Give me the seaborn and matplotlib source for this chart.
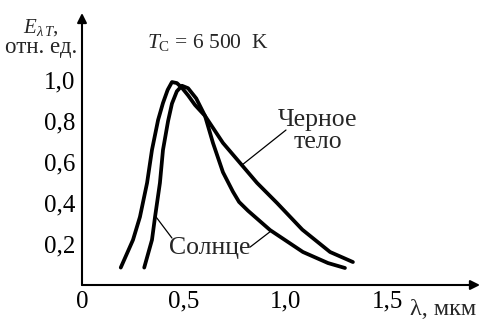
import matplotlib
matplotlib.use("Agg")
import matplotlib.pyplot as plt
from matplotlib import font_manager as fm
import seaborn as sns
import pandas as pd

# ---- data ----
bb_lam = [0.19, 0.25, 0.284, 0.319, 0.343, 0.373, 0.397, 0.42, 0.441, 0.465, 0.49,
          0.52, 0.554, 0.603, 0.691, 0.775, 0.858, 0.956, 1.08, 1.216, 1.328]
bb_E = [0.085, 0.22, 0.332, 0.498, 0.659, 0.805, 0.888, 0.952, 0.99, 0.985, 0.962,
        0.925, 0.878, 0.825, 0.693, 0.595, 0.498, 0.40, 0.27, 0.161, 0.112]
sun_lam = [0.305, 0.343, 0.358, 0.382, 0.397, 0.422, 0.441, 0.465, 0.49, 0.52, 0.56,
           0.603, 0.642, 0.691, 0.74, 0.77, 0.814, 0.922, 1.083, 1.206, 1.289]
sun_E = [0.085, 0.22, 0.332, 0.498, 0.659, 0.8, 0.885, 0.945, 0.972, 0.96, 0.91,
         0.825, 0.693, 0.55, 0.455, 0.405, 0.362, 0.268, 0.161, 0.107, 0.083]

x_ticks = [0, 0.25, 0.5, 0.75, 1.0, 1.25, 1.5]
x_labels = ["0", "", "0,5", "", "1,0", "", "1,5"]
y_ticks = [0.2, 0.4, 0.6, 0.8, 1.0]
y_labels = ["0,2", "0,4", "0,6", "0,8", "1,0"]

df = pd.DataFrame({
    "lam": bb_lam + sun_lam,
    "E": bb_E + sun_E,
    "series": ["Черное тело"] * len(bb_lam) + ["Солнце"] * len(sun_lam),
})

# pick a Times-like serif family that is actually installed
available = {f.name for f in fm.fontManager.ttflist}
serif = "DejaVu Serif"
for cand in ["Liberation Serif", "Tinos", "Times New Roman", "Nimbus Roman",
             "Nimbus Roman No9 L", "TeX Gyre Termes", "STIX Two Text", "STIXGeneral",
             "Noto Serif", "DejaVu Serif"]:
    if cand in available:
        serif = cand
        break
has_italic = any(f.name == serif and f.style == "italic" for f in fm.fontManager.ttflist)

sns.set_theme(style="white")
plt.rcParams["font.family"] = [serif, "DejaVu Serif"]
plt.rcParams["mathtext.fontset"] = "custom"
plt.rcParams["mathtext.rm"] = serif
plt.rcParams["mathtext.it"] = f"{serif}:italic" if has_italic else "DejaVu Serif:italic"

W, H = 485, 321
fig = plt.figure(figsize=(W / 100, H / 100), dpi=100)
x0px, y0px = 82, 285
xmax = (480 - x0px) / 204
ymax = (y0px - 13) / 205
ax = fig.add_axes([x0px / W, (H - y0px) / H, (480 - x0px) / W, (y0px - 13) / H])

sns.lineplot(data=df, x="lam", y="E", hue="series",
             palette={"Черное тело": "black", "Солнце": "black"},
             sort=False, estimator=None, legend=False, lw=2.7,
             solid_capstyle="round", solid_joinstyle="round", ax=ax)

ax.set_xlim(0, xmax)
ax.set_ylim(0, ymax)
ax.set_xlabel("")
ax.set_ylabel("")
for s in ax.spines.values():
    s.set_visible(False)

# axes with arrows
ax.annotate("", xy=(1, 0), xytext=(0, 0), xycoords="axes fraction",
            arrowprops=dict(arrowstyle="-|>", lw=1.5, color="black",
                            mutation_scale=14, shrinkA=0, shrinkB=0))
ax.annotate("", xy=(0, 1), xytext=(0, 0), xycoords="axes fraction",
            arrowprops=dict(arrowstyle="-|>", lw=1.5, color="black",
                            mutation_scale=14, shrinkA=0, shrinkB=0))

ax.set_xticks(x_ticks)
ax.set_xticklabels(x_labels)
ax.set_yticks(y_ticks)
ax.set_yticklabels(y_labels)
ax.tick_params(axis="both", direction="in", length=6, width=1.3, color="black",
               labelsize=18, labelcolor="black")
ax.tick_params(axis="x", pad=4)
ax.tick_params(axis="y", pad=5)
ax.xaxis.get_major_ticks()[0].tick1line.set_visible(False)
for lab in ax.get_xticklabels() + ax.get_yticklabels():
    lab.set_family([serif, "DejaVu Serif"])

# axis labels
ax.text((410 - x0px) / 204, (y0px - 315) / 205, "λ, мкм", fontsize=17.5,
        ha="left", va="baseline", clip_on=False)
fig.text(23 / W, 1 - 33 / H, r"$E_{\lambda\,T}$,", fontsize=15,
         ha="left", va="baseline")
fig.text(5 / W, 1 - 53 / H, "отн. ед.", fontsize=16.5, ha="left", va="baseline")

# temperature
ax.text((147 - x0px) / 204, (y0px - 48) / 205, r"$T_{\mathrm{C}}$ = 6 500  K",
        fontsize=15.5, ha="left", va="baseline")

# curve labels with pointers
ax.text((318 - x0px) / 204, (y0px - 131) / 205, "Черное\nтело", fontsize=18.5,
        ha="center", va="center", linespacing=1.0)
ax.annotate("", xy=(0.784, 0.585), xytext=(1.0, 0.756),
            arrowprops=dict(arrowstyle="-", lw=0.9, color="black",
                            shrinkA=0, shrinkB=0))
ax.text((210 - x0px) / 204, (y0px - 248) / 205, "Солнце", fontsize=18.5,
        ha="center", va="center")
ax.annotate("", xy=(0.363, 0.332), xytext=(0.441, 0.229),
            arrowprops=dict(arrowstyle="-", lw=0.9, color="black",
                            shrinkA=0, shrinkB=0))
ax.annotate("", xy=(0.926, 0.263), xytext=(0.824, 0.185),
            arrowprops=dict(arrowstyle="-", lw=0.9, color="black",
                            shrinkA=0, shrinkB=0))

fig.savefig("out.png", dpi=100, facecolor="white")
